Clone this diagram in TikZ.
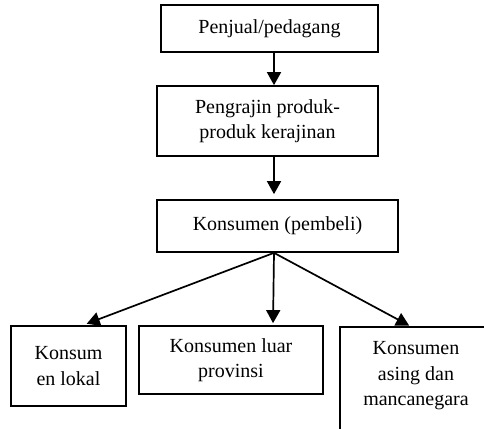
\documentclass[tikz,border=0pt]{standalone}
\usepackage{fontspec}
\setmainfont{Liberation Serif}
\usetikzlibrary{calc,arrows.meta}

\begin{document}
\begin{tikzpicture}[x=1pt,y=-1pt,
  box/.style={draw, line width=1.7pt, inner sep=0pt, align=center, font=\fontsize{20}{25.5}\selectfont},
  arr/.style={line width=1.7pt, -{Triangle[width=14pt,length=13pt]}}]
\useasboundingbox (0,0) rectangle (484,428);
\clip (0,0) rectangle (484,428);
\node [box, minimum width=217pt, minimum height=47pt] (pj) at (269.5,28.5) {Penjual/pedagang};
\node [box, minimum width=221pt, minimum height=70pt] (pr) at (267.5,121) {Pengrajin produk-\\produk kerajinan};
\node [box, minimum width=241pt, minimum height=52pt] (ks) at (277.5,226) {Konsumen (pembeli)};
\node [box, minimum width=115pt, minimum height=80pt] (kl) at (68.5,366) {Konsum\\en lokal};
\node [box, minimum width=184pt, minimum height=68pt] (kp) at (231,360) {Konsumen luar\\provinsi};
\node [box, anchor=north, minimum width=152pt, inner ysep=15pt, text depth=60pt] (ka) at (416,326) {Konsumen\\asing dan\\mancanegara};
\coordinate (fan) at ($(ks.south)+(-3.5,0)$);
\draw [arr] ([xshift=4.5pt]pj.south) -- ([xshift=6.5pt]pr.north);
\draw [arr, shorten >=5pt] ([xshift=6.5pt]pr.south) -- (fan |- ks.north);
\draw [arr, shorten >=4pt] (fan) -- ([xshift=14.5pt]kl.north);
\draw [arr, shorten >=2pt] (fan) -- ([xshift=42pt]kp.north);
\draw [arr, shorten >=1pt] (fan) -- ([xshift=-6pt]ka.north);
\end{tikzpicture}
\end{document}
